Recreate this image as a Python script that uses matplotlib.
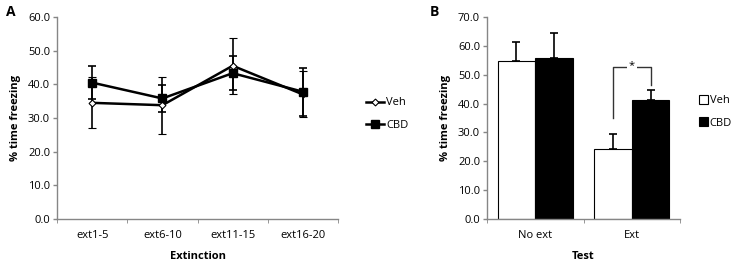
import matplotlib.pyplot as plt
import numpy as np

plt.rcParams['font.family'] = ['Open Sans', 'DejaVu Sans']

# Panel A - extinction sessions
sessions = ['ext1-5', 'ext6-10', 'ext11-15', 'ext16-20']
veh_ext = [34.5, 33.8, 45.5, 37.0]
veh_ext_err = [7.6, 8.4, 8.3, 6.8]
cbd_ext = [40.5, 35.8, 43.3, 37.8]
cbd_ext_err = [4.8, 4.1, 5.1, 7.1]

# Panel B - test
tests = ['No ext', 'Ext']
veh_test = [54.7, 24.2]
veh_test_err = [6.5, 5.4]
cbd_test = [55.8, 41.3]
cbd_test_err = [8.7, 3.5]

axis_col = '#868686'
fs = 8

fig = plt.figure(figsize=(7.35, 2.64), dpi=100)
axA = fig.add_axes([0.0776, 0.170, 0.3823, 0.766])
axB = fig.add_axes([0.6626, 0.170, 0.2626, 0.766])


def style(ax):
    for s in ['top', 'right']:
        ax.spines[s].set_visible(False)
    for s in ['left', 'bottom']:
        ax.spines[s].set_color(axis_col)
        ax.spines[s].set_linewidth(1.0)
    ax.tick_params(axis='both', colors=axis_col, labelcolor='black',
                   labelsize=fs, length=3, width=1)
    ax.tick_params(axis='y', direction='out', pad=2)


# ---- A
x = np.arange(len(sessions))
axA.errorbar(x, veh_ext, yerr=veh_ext_err, color='black', lw=1.8,
             marker='D', ms=3.5, mfc='white', mec='black', mew=0.8,
             capsize=3, elinewidth=1.2, capthick=1.2, label='Veh', zorder=3)
axA.errorbar(x, cbd_ext, yerr=cbd_ext_err, color='black', lw=1.8,
             marker='s', ms=5.5, mfc='black', mec='black',
             capsize=3, elinewidth=1.2, capthick=1.2, label='CBD', zorder=3)
axA.set_xlim(-0.5, len(sessions) - 0.5)
axA.set_ylim(0, 60)
axA.set_yticks(np.arange(0, 61, 10))
axA.set_yticklabels(['%.1f' % v for v in np.arange(0, 61, 10)])
axA.set_xticks(x)
axA.set_xticklabels(sessions)
axA.set_xticks(np.arange(-0.5, len(sessions), 1), minor=True)
style(axA)
axA.tick_params(axis='x', which='major', length=0, pad=8)
axA.tick_params(axis='x', which='minor', length=3, color=axis_col)
axA.set_ylabel('% time freezing', fontsize=fs, fontweight='bold', labelpad=5)
axA.set_xlabel('Extinction', fontsize=fs, fontweight='bold', labelpad=7)
hA, lA = axA.get_legend_handles_labels()
hA = [h[0] for h in hA]
axA.legend(hA, lA, loc='center left', bbox_to_anchor=(1.065, 0.52), frameon=False,
           fontsize=fs, handlelength=1.6, handletextpad=0.2, labelspacing=1.0)
fig.text(0.008, 0.955, 'A', fontsize=10, fontweight='bold', va='center')

# ---- B
xb = np.arange(len(tests))
w = 0.39
axB.bar(xb - w / 2, veh_test, w, color='white', edgecolor='black', lw=0.8,
        label='Veh', zorder=2)
axB.bar(xb + w / 2, cbd_test, w, color='black', edgecolor='black', lw=0.8,
        label='CBD', zorder=2)
axB.errorbar(xb - w / 2, veh_test, yerr=[np.zeros(2), veh_test_err], fmt='none',
             ecolor='black', elinewidth=1.2, capsize=3, capthick=1.2, zorder=3)
axB.errorbar(xb + w / 2, cbd_test, yerr=[np.zeros(2), cbd_test_err], fmt='none',
             ecolor='black', elinewidth=1.2, capsize=3, capthick=1.2, zorder=3)
# significance bracket
x1, x2 = xb[1] - w / 2, xb[1] + w / 2
y_top = 52.8
axB.plot([x1, x1, x2, x2], [veh_test[1] + veh_test_err[1] + 5.3, y_top, y_top,
                            cbd_test[1] + cbd_test_err[1] + 1.6],
         color='#333333', lw=1.0, zorder=1)
axB.text((x1 + x2) / 2, y_top + 0.5, '*', ha='center', va='center', fontsize=8,
         bbox=dict(facecolor='white', edgecolor='none', pad=1.5))
axB.set_xlim(-0.5, len(tests) - 0.5)
axB.set_ylim(0, 70)
axB.set_yticks(np.arange(0, 71, 10))
axB.set_yticklabels(['%.1f' % v for v in np.arange(0, 71, 10)])
axB.set_xticks(xb)
axB.set_xticklabels(tests)
axB.set_xticks(np.arange(-0.5, len(tests), 1), minor=True)
style(axB)
axB.tick_params(axis='x', which='major', length=0, pad=8)
axB.tick_params(axis='x', which='minor', length=3, color=axis_col)
axB.set_ylabel('% time freezing', fontsize=fs, fontweight='bold', labelpad=5)
axB.set_xlabel('Test', fontsize=fs, fontweight='bold', labelpad=7)
axB.legend(loc='center left', bbox_to_anchor=(1.065, 0.53), frameon=False,
           fontsize=fs, handlelength=0.8, handleheight=0.8, handletextpad=0.15,
           labelspacing=1.0, borderaxespad=0.2)
fig.text(0.585, 0.955, 'B', fontsize=10, fontweight='bold', va='center')

fig.savefig('out.png', dpi=100)
